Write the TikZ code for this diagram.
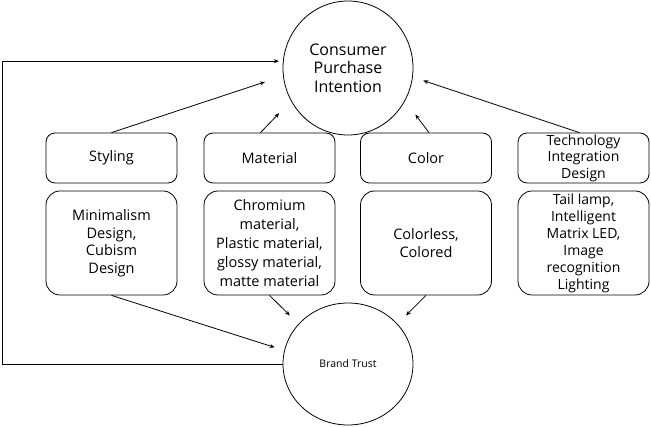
\documentclass[tikz,border=0pt]{standalone}
\usepackage{fontspec}
\setmainfont{Open Sans}
\usetikzlibrary{shapes.geometric,arrows.meta}
\begin{document}
\begin{tikzpicture}[x=1pt,y=-1pt,
    arr/.style={-{Stealth[length=5pt,width=4pt]},line width=0.8pt},
    headbox/.style={draw,line width=0.8pt,rounded corners=9pt,minimum width=131pt,
        minimum height=50pt,align=center,inner sep=0pt,font=\fontsize{14.5}{17.5}\selectfont},
    itembox/.style={headbox,rounded corners=14pt,minimum height=104pt},
    goal/.style={draw,ellipse,line width=0.8pt,inner sep=0pt,align=center,minimum width=130pt}]
    \useasboundingbox (0,0) rectangle (651,427);
    %ellipses
    \node[goal,minimum height=134pt,font=\fontsize{16}{18.5}\selectfont] (cpi) at (348,68)
        {Consumer\\Purchase\\Intention};
    \node[goal,minimum height=122pt,font=\fontsize{10.5}{12}\selectfont] (bt) at (348,364)
        {Brand Trust};
    %head boxes
    \node[headbox] (sty) at (111.5,158) {Styling};
    \node[headbox] (mat) at (269.5,158) {Material};
    \node[headbox] (col) at (426,158) {Color};
    \node[headbox,font=\fontsize{14}{16.5}\selectfont] (tec) at (583.5,158) {Technology\\Integration\\Design};
    %item boxes
    \node[itembox] (stb) at (111.5,243) {Minimalism\\Design,\\Cubism\\Design};
    \node[itembox,font=\fontsize{14.5}{19}\selectfont] (mtb) at (269.5,243)
        {Chromium\\material,\\Plastic material,\\glossy material,\\matte material};
    \node[itembox] (clb) at (426,243) {Colorless,\\Colored};
    \node[itembox,font=\fontsize{14}{17}\selectfont] (tcb) at (583.5,243)
        {Tail lamp,\\Intelligent\\Matrix LED,\\Image\\recognition\\Lighting};
    %arrows to purchase intention
    \draw[arr,shorten >=19pt] (sty.north) -- (cpi.187);
    \draw[arr,shorten >=17pt] ([xshift=-9pt]mat.north) -- (cpi.210);
    \draw[arr,shorten >=17pt] ([xshift=3pt]col.north) -- (cpi.330);
    \draw[arr,shorten >=11pt] ([xshift=-4pt]tec.north) -- (cpi.352);
    %arrows to brand trust
    \draw[arr,shorten >=10pt] (stb.south) -- (bt.168);
    \draw[arr,shorten >=12pt] (mtb.south) -- (bt.141);
    \draw[arr,shorten >=12pt] (clb.south) -- (bt.39);
    %feedback line
    \coordinate (edge) at (2,0);
    \draw[arr,shorten >=4pt] (bt.west) -- (bt.west -| edge) |- (cpi.174);
\end{tikzpicture}
\end{document}
